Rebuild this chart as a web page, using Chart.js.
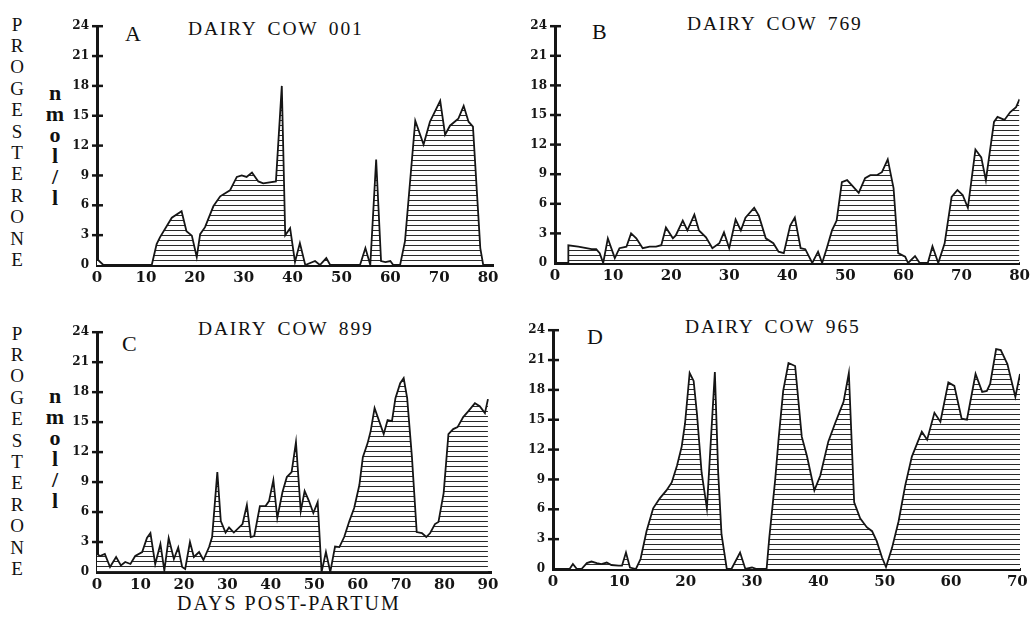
<!DOCTYPE html>
<html>
<head>
<meta charset="utf-8">
<title>Progesterone – dairy cows post-partum</title>
<script src="https://cdn.jsdelivr.net/npm/chart.js@4.4.1/dist/chart.umd.min.js"></script>
<style>
  html, body { margin: 0; padding: 0; background: #fff; }
  body {
    width: 1033px; height: 619px; position: relative; overflow: hidden;
    font-family: "Liberation Serif", "DejaVu Serif", serif; color: #111;
  }
  canvas { position: absolute; }
  .lbl   { position: absolute; white-space: nowrap; line-height: 1; }
  .title { font-size: 19.5px; letter-spacing: 1.8px; word-spacing: 4px; }
  .panel-letter { font-size: 22px; }
  .stack { position: absolute; width: 24px; text-align: center; }
  .prog  { font-size: 19px; line-height: 21.4px; }
  .unit  { font-size: 22px; line-height: 21px; font-weight: bold; }
  .xtitle { font-size: 20px; letter-spacing: 2px; }
</style>
</head>
<body>

<!-- y-axis captions (left column only) -->
<div class="stack prog" style="left:5px;top:13.5px">P<br>R<br>O<br>G<br>E<br>S<br>T<br>E<br>R<br>O<br>N<br>E</div>
<div class="stack unit" style="left:43px;top:82px">n<br>m<br>o<br>l<br>/<br>l</div>
<div class="stack prog" style="left:5px;top:322.5px">P<br>R<br>O<br>G<br>E<br>S<br>T<br>E<br>R<br>O<br>N<br>E</div>
<div class="stack unit" style="left:43px;top:385px">n<br>m<br>o<br>l<br>/<br>l</div>

<!-- panel letters and titles -->
<div class="lbl panel-letter" style="left:125px;top:23px">A</div>
<div class="lbl title" style="left:188px;top:19px">DAIRY COW 001</div>
<div class="lbl panel-letter" style="left:592px;top:21px">B</div>
<div class="lbl title" style="left:687px;top:14px">DAIRY COW 769</div>
<div class="lbl panel-letter" style="left:122px;top:333px">C</div>
<div class="lbl title" style="left:198px;top:319px">DAIRY COW 899</div>
<div class="lbl panel-letter" style="left:587px;top:326px">D</div>
<div class="lbl title" style="left:685px;top:317px">DAIRY COW 965</div>

<div class="lbl xtitle" style="left:177px;top:593px">DAYS POST-PARTUM</div>

<canvas id="chartA"></canvas>
<canvas id="chartB"></canvas>
<canvas id="chartC"></canvas>
<canvas id="chartD"></canvas>

<script>
/* ── Data ───────────────────────────────────────────────── */

const progTicks = [0, 3, 6, 9, 12, 15, 18, 21, 24];   // nmol/l

// A – dairy cow 001
const cow001Days   = [0, 1.3, 11.2, 12.2, 12.9, 15.3, 17.3, 18.3, 19.4, 20.4,
                      21.1, 22.1, 23.8, 25.2, 27.2, 28.6, 29.6, 30.6, 31.7, 33.0,
                      34.0, 36.6, 37.8, 38.5, 39.5, 40.5, 41.5, 42.6, 44.6, 45.6,
                      46.9, 47.7, 53.8, 54.9, 55.9, 57.1, 58.1, 59.0, 60.0, 60.6,
                      62.0, 63.0, 65.1, 66.8, 68.1, 70.2, 71.2, 72.2, 73.9, 75.0,
                      76.0, 76.9, 78.4, 79.0];
const cow001Levels = [0.6, 0, 0, 2.1, 2.8, 4.75, 5.4, 3.4, 2.95, 0.8,
                      3.1, 3.8, 5.9, 6.9, 7.5, 8.85, 9.0, 8.85, 9.3, 8.4,
                      8.2, 8.4, 18.0, 3.0, 3.7, 0.3, 2.2, 0, 0.4, 0,
                      0.7, 0, 0, 1.7, 0, 10.6, 0.4, 0.3, 0.4, 0,
                      0, 2.4, 14.5, 12.1, 14.4, 16.5, 13.1, 14.0, 14.7, 16.0,
                      14.4, 13.9, 1.7, 0];

// B – dairy cow 769 (sampling starts on day 2)
const cow769Days   = [2.3, 2.3, 4.0, 5.4, 6.3, 7.1, 7.7, 8.3, 9.1, 10.3, 11.1,
                      12.3, 13.1, 14.0, 15.1, 16.3, 17.4, 18.3, 19.1, 20.3, 20.8,
                      22.0, 22.8, 24.0, 24.8, 26.0, 27.1, 28.3, 29.1, 30.0, 31.1,
                      32.0, 32.8, 34.3, 35.1, 36.3, 37.6, 38.5, 39.4, 40.5, 41.3,
                      42.3, 43.1, 44.3, 45.3, 46.0, 46.8, 47.7, 48.5, 49.4, 50.3,
                      51.1, 52.3, 53.4, 54.3, 55.4, 56.3, 57.3, 58.3, 59.1, 60.3,
                      60.8, 62.0, 62.8, 64.2, 65.0, 66.0, 67.1, 68.3, 69.3, 70.2,
                      71.1, 72.4, 73.4, 74.2, 75.6, 76.2, 77.4, 78.4, 79.4, 80.0];
const cow769Levels = [0, 1.8, 1.65, 1.5, 1.4, 1.4, 1.0, 0, 2.5, 0.5, 1.5,
                      1.65, 3.0, 2.5, 1.5, 1.65, 1.65, 1.8, 3.6, 2.5, 2.8,
                      4.3, 3.3, 4.9, 3.3, 2.6, 1.5, 2.0, 3.1, 1.5, 4.4,
                      3.3, 4.6, 5.6, 4.8, 2.5, 2.0, 1.15, 1.0, 3.8, 4.6,
                      1.5, 1.4, 0, 1.15, 0, 1.5, 3.3, 4.3, 8.2, 8.4,
                      7.9, 7.1, 8.6, 8.9, 8.9, 9.2, 10.5, 7.6, 1.0, 0.65,
                      0, 0.7, 0, 0, 1.7, 0, 2.0, 6.7, 7.4, 6.9,
                      5.6, 11.5, 10.7, 8.4, 14.3, 14.8, 14.5, 15.3, 15.8, 16.6];

// C – dairy cow 899
const cow899Days   = [0, 0.7, 1.8, 3.0, 4.4, 5.5, 6.5, 7.7, 8.8, 10.4,
                      11.5, 12.3, 13.4, 14.6, 15.5, 16.5, 17.7, 18.7, 19.6, 20.3,
                      21.4, 22.3, 23.5, 24.5, 25.8, 26.5, 27.7, 28.5, 29.6, 30.4,
                      31.5, 33.5, 34.5, 35.4, 36.2, 37.5, 38.8, 39.6, 40.6, 41.5,
                      42.7, 43.7, 44.8, 45.8, 46.9, 47.8, 48.8, 49.8, 50.8, 51.7,
                      52.7, 53.7, 54.8, 55.8, 56.9, 58.1, 59.2, 60.4, 61.2, 62.3,
                      63.0, 63.9, 66.0, 66.9, 67.9, 68.7, 69.8, 70.6, 71.4, 72.5,
                      73.6, 74.8, 75.8, 76.7, 77.8, 78.6, 79.8, 80.9, 82.0, 83.0,
                      84.3, 85.5, 87.0, 88.1, 89.3, 90.0];
const cow899Levels = [1.8, 1.6, 1.8, 0.5, 1.5, 0.65, 1.0, 0.8, 1.6, 2.0,
                      3.4, 3.9, 0.8, 2.8, 0.15, 3.4, 1.3, 2.45, 0.5, 0.3,
                      3.0, 1.5, 2.0, 1.2, 2.5, 3.5, 10.0, 5.1, 3.95, 4.45,
                      3.95, 4.8, 6.7, 3.5, 3.6, 6.6, 6.6, 7.1, 9.2, 5.4,
                      8.0, 9.5, 10.0, 13.0, 6.1, 8.1, 7.1, 5.9, 7.0, 0,
                      2.0, 0, 2.55, 2.5, 3.5, 5.1, 6.4, 8.7, 11.5, 12.9,
                      14.1, 16.4, 13.8, 15.2, 15.1, 17.4, 18.9, 19.4, 17.4, 11.5,
                      4.0, 3.9, 3.5, 3.9, 4.8, 5.0, 7.9, 13.8, 14.3, 14.5,
                      15.5, 16.1, 16.9, 16.6, 15.9, 17.3];

// D – dairy cow 965
const cow965Days   = [0, 2.5, 3.0, 3.6, 4.3, 5.1, 5.8, 6.6, 7.3, 8.1,
                      8.8, 9.9, 10.4, 11.0, 11.6, 12.5, 13.2, 14.1, 15.1, 16.1,
                      17.1, 17.9, 18.7, 19.4, 19.9, 20.6, 21.2, 21.7, 22.4, 23.2,
                      24.4, 24.9, 25.4, 26.2, 26.9, 28.2, 29.0, 30.0, 30.7,
                      32.2, 32.6, 33.5, 34.0, 34.7, 35.5, 36.5, 37.5, 38.3, 39.4,
                      40.3, 41.5, 42.5, 43.8, 44.6, 45.4, 46.3, 47.3, 48.1, 48.8,
                      49.6, 50.2, 51.1, 52.1, 53.1, 54.1, 55.6, 56.4, 57.5, 58.4,
                      59.6, 60.5, 61.6, 62.4, 63.7, 64.7, 65.4, 65.9, 66.8, 67.5,
                      68.5, 69.7, 70.4];
const cow965Levels = [0, 0, 0.5, 0, 0, 0.6, 0.75, 0.6, 0.5, 0.65,
                      0.4, 0.33, 0.33, 1.65, 0.15, 0, 1.0, 3.8, 6.1, 7.1,
                      7.9, 8.7, 10.4, 12.3, 14.6, 19.7, 18.9, 15.6, 9.7, 6.1,
                      19.8, 9.7, 3.5, 0, 0, 1.65, 0, 0.15, 0,
                      0, 3.1, 9.0, 13.0, 17.9, 20.7, 20.4, 13.3, 11.3, 7.9,
                      9.4, 12.8, 14.6, 16.8, 19.7, 6.7, 5.1, 4.2, 3.8, 2.8,
                      1.15, 0.2, 2.1, 4.8, 8.4, 11.3, 13.8, 13.0, 15.7, 14.8,
                      18.75, 18.4, 15.1, 15.0, 19.6, 17.8, 17.9, 18.6, 22.1, 22.0,
                      20.6, 17.3, 19.6];


/* ── Layout ─────────────────────────────────────────────── */

const Y_AXIS_W  = 40;   // room for the y tick labels
const X_AXIS_H  = 26;   // room for the x tick labels
const PAD_TOP   = 10;
const PAD_RIGHT = 12;

// plot-area boxes measured on the reference (page pixels)
const PANELS = [
  { id: 'chartA', days: cow001Days, levels: cow001Levels, dayMax: 81,   box: { left: 97,  right: 493,  top: 21,  bottom: 265 } },
  { id: 'chartB', days: cow769Days, levels: cow769Levels, dayMax: 80,   box: { left: 555, right: 1022, top: 21,  bottom: 263 } },
  { id: 'chartC', days: cow899Days, levels: cow899Levels, dayMax: 90.7, box: { left: 97,  right: 491,  top: 327, bottom: 572 } },
  { id: 'chartD', days: cow965Days, levels: cow965Levels, dayMax: 70.4, box: { left: 553, right: 1020, top: 325, bottom: 569 } }
];

const INK  = '#151515';
const FONT = '"DejaVu Serif", "Liberation Serif", serif';


/* ── Hatch fill (horizontal rules) ──────────────────────── */

function hatchTile() {
  const c = document.createElement('canvas');
  c.width = 8; c.height = 5;
  const g = c.getContext('2d');
  g.fillStyle = '#fff';
  g.fillRect(0, 0, 8, 5);
  g.fillStyle = '#2a2a2a';
  g.fillRect(0, 4, 8, 1);
  return c;
}
const HATCH = hatchTile();


/* ── Ticks that cross the y axis ────────────────────────── */

const crossTicks = {
  id: 'crossTicks',
  afterDraw(chart) {
    const { ctx, chartArea, scales: { y } } = chart;
    ctx.save();
    ctx.strokeStyle = INK;
    ctx.lineWidth = 2.5;
    y.ticks.forEach(t => {
      if (!t.value) return;
      const py = y.getPixelForValue(t.value);
      ctx.beginPath();
      ctx.moveTo(chartArea.left - 5, py);
      ctx.lineTo(chartArea.left + 6, py);
      ctx.stroke();
    });
    ctx.restore();
  }
};


/* ── Build one panel ────────────────────────────────────── */

function buildPanel(p) {
  const canvas = document.getElementById(p.id);
  const left   = p.box.left - Y_AXIS_W;
  const top    = p.box.top - PAD_TOP;
  canvas.width  = p.box.right + PAD_RIGHT - left;
  canvas.height = p.box.bottom + X_AXIS_H - top;
  canvas.style.left = left + 'px';
  canvas.style.top  = top + 'px';

  const n = Math.min(p.days.length, p.levels.length);
  const points = [];
  for (let i = 0; i < n; i++) points.push({ x: p.days[i], y: p.levels[i] });

  new Chart(canvas, {
    type: 'line',
    data: {
      datasets: [{
        data: points,
        borderColor: INK,
        borderWidth: 1.8,
        backgroundColor: c => c.chart.ctx.createPattern(HATCH, 'repeat'),
        fill: 'origin',
        tension: 0,
        pointRadius: 0
      }]
    },
    options: {
      responsive: false,
      animation: false,
      events: [],
      layout: { padding: { top: PAD_TOP, right: PAD_RIGHT, left: 0, bottom: 0 } },
      plugins: { legend: { display: false }, tooltip: { enabled: false } },
      scales: {
        x: {
          type: 'linear',
          min: 0, max: p.dayMax,
          afterFit: s => { s.height = X_AXIS_H; },
          border: { display: true, width: 3, color: INK },
          grid: { drawOnChartArea: false, drawTicks: false },
          ticks: {
            stepSize: 10, includeBounds: false, padding: 4,
            color: INK, font: { family: FONT, size: 15, weight: 'bold' }
          }
        },
        y: {
          min: 0, max: 24,
          afterFit: s => { s.width = Y_AXIS_W; },
          afterBuildTicks: s => { s.ticks = progTicks.map(v => ({ value: v })); },
          border: { display: true, width: 3, color: INK },
          grid: { drawOnChartArea: false, drawTicks: false },
          ticks: {
            padding: 8,
            color: INK, font: { family: FONT, size: 12, weight: 'bold' }
          }
        }
      }
    },
    plugins: [crossTicks]
  });
}

PANELS.forEach(buildPanel);
</script>
</body>
</html>
